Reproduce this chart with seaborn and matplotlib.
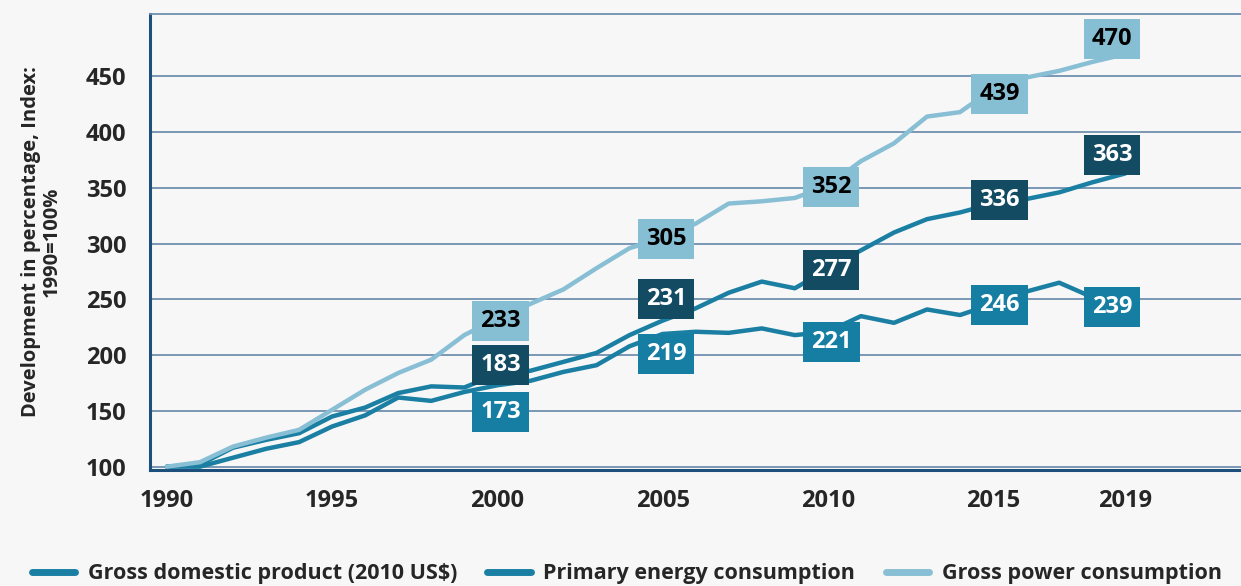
import pandas as pd
import seaborn as sns
import matplotlib.pyplot as plt
from matplotlib.lines import Line2D

# Données (indice 1990 = 100)
years = list(range(1990, 2020))
gdp = [100, 100, 108, 116, 122, 136, 146, 162, 159, 167,
       173, 177, 185, 191, 208, 219, 221, 220, 224, 218,
       221, 235, 229, 241, 236, 246, 257, 265, 252, 239]
primary = [100, 102, 117, 124, 130, 145, 153, 166, 172, 171,
           183, 186, 194, 202, 218, 231, 242, 256, 266, 260,
           277, 294, 310, 322, 328, 336, 340, 346, 355, 363]
power = [100, 104, 118, 126, 133, 151, 169, 184, 196, 218,
         233, 246, 259, 278, 296, 305, 318, 336, 338, 341,
         352, 374, 390, 414, 418, 439, 449, 455, 463, 470]

names = ["Gross domestic product (2010 US$)", "Primary energy consumption",
         "Gross power consumption"]
label_years = [2000, 2005, 2010, 2015, 2019]
xticks = [1990, 1995, 2000, 2005, 2010, 2015, 2019]

# décalage vertical des étiquettes (pour éviter les chevauchements)
label_dy = {
    names[0]: [-24, -18, -9.5, -1, 4.6],
    names[1]: [8, 19, -1, 3, 16.5],
    names[2]: [-2, -1, -1, -4.5, 14],
}
label_dx = [0.1, 0.1, 0.1, 0.2, -0.4]

line_col = {names[0]: "#1a7fa3", names[1]: "#1a7fa3", names[2]: "#88bfd5"}
box_col = {names[0]: "#167ea3", names[1]: "#124b62", names[2]: "#86bed4"}
txt_col = {names[0]: "white", names[1]: "white", names[2]: "black"}

df = pd.DataFrame({
    "year": years * 3,
    "value": gdp + primary + power,
    "series": [n for n in names for _ in years],
})

sns.set_style("white")
plt.rcParams["font.family"] = ["Open Sans", "DejaVu Sans"]

bg = "#f7f7f7"
fig = plt.figure(figsize=(12.41, 5.86), dpi=100, facecolor=bg)
ax = fig.add_axes([150 / 1241, 116 / 586, 1091 / 1241, 456 / 586])
ax.set_facecolor(bg)

sns.lineplot(data=df, x="year", y="value", hue="series", hue_order=names,
             palette=line_col, linewidth=3.2, legend=False, ax=ax, zorder=3)

# étiquettes de valeurs
series = {names[0]: gdp, names[1]: primary, names[2]: power}
for n in names:
    vals = series[n]
    for i, yr in enumerate(label_years):
        v = vals[years.index(yr)]
        ax.text(yr + label_dx[i], v + label_dy[n][i], str(v), ha="center", va="center",
                fontsize=17, fontweight="bold", color=txt_col[n], zorder=5,
                bbox=dict(boxstyle="square,pad=0.34", fc=box_col[n], ec="none"))

ax.set_xlim(1989.49, 2022.5)
ax.set_ylim(97, 506)
ax.set_yticks(range(100, 451, 50))
ax.set_xticks(xticks)
ax.tick_params(length=0, labelsize=17)
ax.tick_params(axis="y", pad=17)
ax.tick_params(axis="x", pad=14)
for lab in ax.get_xticklabels() + ax.get_yticklabels():
    lab.set_fontweight("bold")

ax.yaxis.grid(True, color="#6f8fb0", linewidth=1.3)
ax.set_axisbelow(True)
for s in ["left", "bottom"]:
    ax.spines[s].set_color("#1d4f7c")
    ax.spines[s].set_linewidth(2.2)
ax.spines["top"].set_color("#6f8fb0")
ax.spines["top"].set_linewidth(1.3)
ax.spines["right"].set_visible(False)

ax.set_xlabel("")
ax.set_ylabel("Development in percentage, Index:\n1990=100%", fontsize=14.5,
              fontweight="bold", linespacing=1.05)
ax.yaxis.set_label_coords(-0.081, 0.5)

handles = [Line2D([0], [0], color=line_col[n], linewidth=5) for n in names]
fig.legend(handles, names, loc="lower left", bbox_to_anchor=(0.01, -0.03, 0.99, 0.05),
           mode="expand", ncol=3, frameon=False, handlelength=2.0, handletextpad=0.6,
           prop={"weight": "bold", "size": 15.5})

plt.savefig("out.png", dpi=100, facecolor=bg)
